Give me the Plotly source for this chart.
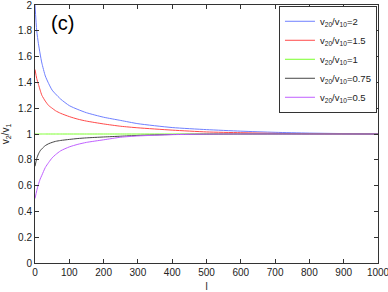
import plotly.graph_objects as go

l_vals = [0, 5, 10, 15, 20, 30, 40, 50, 60, 75, 100, 125, 150, 200, 250, 300, 400, 500, 600, 700, 800, 1000]

ratio_2 = [2.0, 1.80, 1.70, 1.62, 1.55, 1.45, 1.39, 1.34, 1.31, 1.27, 1.22, 1.19, 1.165, 1.13, 1.105, 1.08, 1.05, 1.034, 1.022, 1.013, 1.007, 1.0]
ratio_15 = [1.5, 1.43, 1.385, 1.34, 1.30, 1.255, 1.22, 1.20, 1.18, 1.16, 1.135, 1.115, 1.10, 1.078, 1.06, 1.048, 1.03, 1.016, 1.01, 1.005, 1.002, 1.0]
ratio_1 = [1.0] * len(l_vals)
ratio_075 = [0.75, 0.81, 0.845, 0.87, 0.885, 0.91, 0.925, 0.935, 0.943, 0.95, 0.958, 0.965, 0.97, 0.977, 0.983, 0.989, 0.996, 0.999, 1.0, 1.0, 1.0, 1.0]
ratio_05 = [0.5, 0.56, 0.61, 0.65, 0.68, 0.74, 0.78, 0.815, 0.84, 0.87, 0.9, 0.92, 0.935, 0.955, 0.975, 0.985, 0.995, 0.999, 1.0, 1.0, 1.0, 1.0]

series_names = ["v<sub>20</sub>/v<sub>10</sub>=2", "v<sub>20</sub>/v<sub>10</sub>=1.5",
                "v<sub>20</sub>/v<sub>10</sub>=1", "v<sub>20</sub>/v<sub>10</sub>=0.75",
                "v<sub>20</sub>/v<sub>10</sub>=0.5"]
series_vals = [ratio_2, ratio_15, ratio_1, ratio_075, ratio_05]
colors = ["#6f80ff", "#ff4a4a", "#7aff2a", "#454545", "#c060ff"]

fig = go.Figure()
for name, vals, c in zip(series_names, series_vals, colors):
    fig.add_trace(go.Scatter(x=l_vals, y=vals, mode="lines", name=name,
                             line=dict(color=c, width=1, shape="spline", smoothing=0.6)))

axis_common = dict(showgrid=False, zeroline=False, showline=True, linecolor="#333",
                   linewidth=1, mirror="ticks", ticks="inside", ticklen=4, tickcolor="#333",
                   tickfont=dict(size=10, color="#222"), automargin=False,
                   ticklabeloverflow="allow")

fig.update_layout(
    width=388, height=292,
    margin=dict(l=35, r=10, t=5, b=29),
    paper_bgcolor="white", plot_bgcolor="white",
    font=dict(family="Liberation Sans, Arial, sans-serif", size=10, color="#222"),
    xaxis=dict(range=[0, 1000], tickvals=list(range(0, 1001, 100)),
               title=dict(text="l", font=dict(size=10, color="#222")), **axis_common),
    yaxis=dict(range=[0, 2], tickvals=[0, 0.2, 0.4, 0.6, 0.8, 1, 1.2, 1.4, 1.6, 1.8, 2],
               ticktext=["0", "0.2", "0.4", "0.6", "0.8", "1", "1.2", "1.4", "1.6", "1.8", "2"],
               title=dict(text="v<sub>2</sub>/v<sub>1</sub>", font=dict(size=10, color="#222")),
               **axis_common),
    legend=dict(x=0.997, y=0.997, xanchor="right", yanchor="top",
                bgcolor="white", bordercolor="#333", borderwidth=1,
                font=dict(size=9.5, color="#222"), tracegroupgap=0, itemwidth=30),
    showlegend=True,
)

fig.add_annotation(text="(c)", x=0.04, y=0.93, xref="paper", yref="paper",
                   xanchor="left", yanchor="middle", showarrow=False,
                   font=dict(size=20, color="black"))

fig.write_html("out.html", config={"displayModeBar": False},
               post_script="document.body.style.margin='0';document.body.style.overflow='hidden';")
